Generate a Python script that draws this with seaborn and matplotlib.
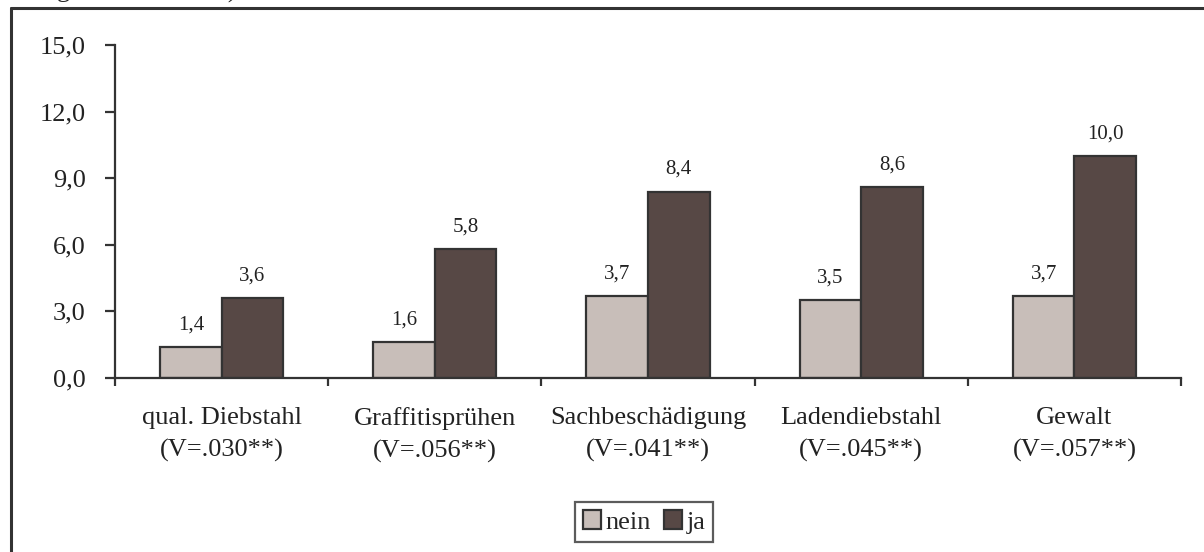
import numpy as np
import pandas as pd
import matplotlib
matplotlib.use("Agg")
import matplotlib.pyplot as plt
from matplotlib.lines import Line2D
import seaborn as sns

# Daten
kategorien = ["qual. Diebstahl\n(V=.030**)", "Graffitisprühen\n(V=.056**)",
              "Sachbeschädigung\n(V=.041**)", "Ladendiebstahl\n(V=.045**)",
              "Gewalt\n(V=.057**)"]
nein = [1.4, 1.6, 3.7, 3.5, 3.7]
ja = [3.6, 5.8, 8.4, 8.6, 10.0]
gruppen = ["nein", "ja"]
farben = ["#c8beb9", "#574845"]
y_ticks = [0, 3, 6, 9, 12, 15]

df = pd.DataFrame({
    "kategorie": kategorien * 2,
    "wert": nein + ja,
    "gruppe": ["nein"] * len(nein) + ["ja"] * len(ja),
})

sns.set_style("white")
plt.rcParams["font.family"] = ["Liberation Serif", "DejaVu Serif"]
dunkel = "#333333"
textfarbe = "#222222"
fs = 19

fig = plt.figure(figsize=(12.04, 5.52), dpi=100)
ax = fig.add_axes([115 / 1204, 1 - 378 / 552, (1181 - 115) / 1204, (378 - 45) / 552])

sns.barplot(data=df, x="kategorie", y="wert", hue="gruppe", hue_order=gruppen,
            palette=farben, width=0.577, edgecolor=dunkel, linewidth=1.6,
            saturation=1, ax=ax)

for cont in ax.containers:
    ax.bar_label(cont, labels=[f"{v:.1f}".replace(".", ",") for v in cont.datavalues],
                 padding=9, fontsize=15, color=textfarbe)

ax.set_ylim(0, 15)
ax.set_xlim(-0.5, len(kategorien) - 0.5)
ax.set_yticks(y_ticks)
ax.set_yticklabels([f"{t:.1f}".replace(".", ",") for t in y_ticks], fontsize=fs, color=textfarbe)
ax.set_xticks(range(len(kategorien)))
ax.set_xticklabels(kategorien, fontsize=fs, color=textfarbe, linespacing=1.55)
ax.set_xticks(np.arange(-0.5, len(kategorien)), minor=True)
ax.tick_params(axis="x", which="major", bottom=True, length=0, pad=21)
ax.tick_params(axis="x", which="minor", bottom=True, length=6, width=1.6, color=dunkel, direction="out")
ax.tick_params(axis="y", left=True, length=7, width=1.6, color=dunkel, direction="out", pad=14)
ax.set_xlabel("")
ax.set_ylabel("")

for s in ["top", "right"]:
    ax.spines[s].set_visible(False)
for s in ["left", "bottom"]:
    ax.spines[s].set_color(dunkel)
    ax.spines[s].set_linewidth(1.6)

# Legende
ax.legend_.remove()
handles = [plt.Rectangle((0, 0), 1, 1, facecolor=c, edgecolor=dunkel, linewidth=1.6) for c in farben]
leg = fig.legend(handles, gruppen, loc="center", bbox_to_anchor=(644 / 1204, 1 - 522 / 552),
                 ncol=2, fontsize=fs, frameon=True, fancybox=False, handlelength=0.7,
                 handleheight=0.7, handletextpad=0.15, columnspacing=0.5, borderpad=0.3)
leg.get_frame().set_edgecolor(dunkel)
leg.get_frame().set_linewidth(1.6)

# Rahmen und abgeschnittener Titel
fig.add_artist(Line2D([10.5 / 1204, 10.5 / 1204], [0, 1 - 7.5 / 552], color=dunkel, lw=2.2))
fig.add_artist(Line2D([10.5 / 1204, 1], [1 - 7.5 / 552, 1 - 7.5 / 552], color=dunkel, lw=2.2))
fig.text(237 / 1204, 1 + 2.5 / 552, "gewerteter Fälle)", fontsize=fs, va="baseline", ha="right", color=textfarbe)

fig.savefig("out.png", dpi=100)
